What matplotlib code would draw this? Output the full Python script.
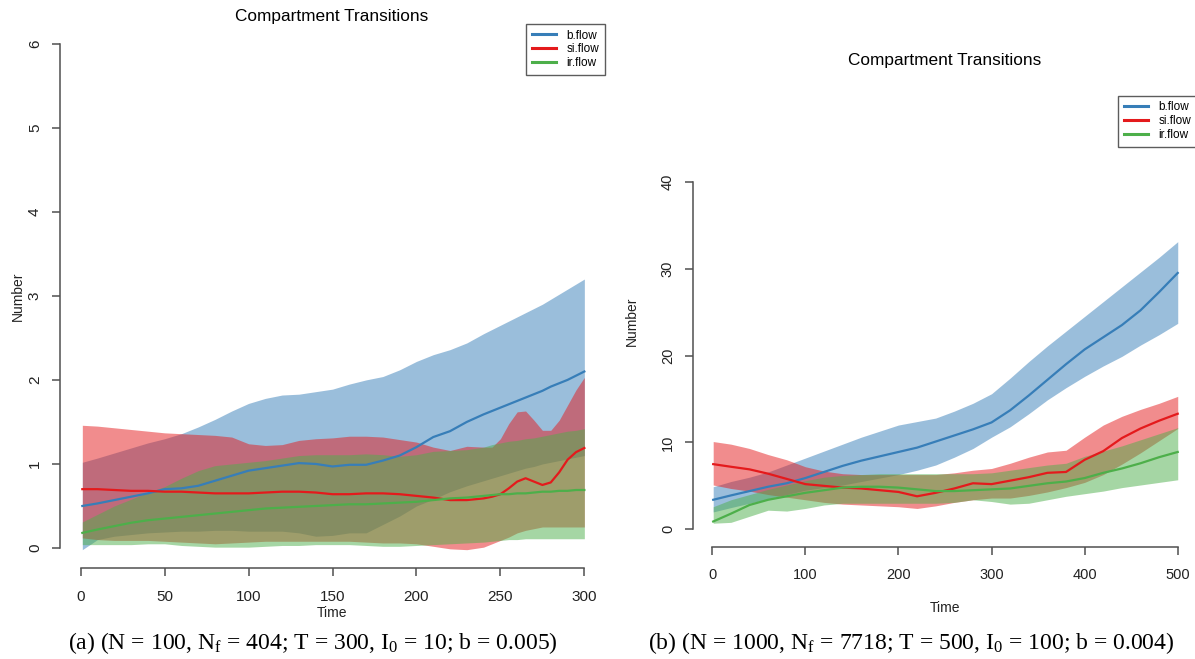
import matplotlib
matplotlib.use("Agg")
import matplotlib.pyplot as plt

plt.rcParams['font.family'] = ['Liberation Sans', 'DejaVu Sans']
plt.rcParams['mathtext.fontset'] = 'custom'
plt.rcParams['mathtext.rm'] = 'Liberation Serif'
plt.rcParams['mathtext.it'] = 'Liberation Serif:italic'

# ---- panel (a): N = 100, T = 300 ----
t_a = [1, 10, 20, 30, 40, 50, 60, 70, 80, 90, 100, 110, 120, 130, 140, 150, 160,
       170, 180, 190, 200, 210, 220, 230, 240, 245, 250, 255, 260, 265, 270, 275,
       280, 285, 290, 295, 300]

b_mean_a = [0.50, 0.53, 0.57, 0.61, 0.65, 0.70, 0.71, 0.74, 0.80, 0.86, 0.92, 0.95, 0.98,
            1.01, 1.00, 0.97, 0.99, 0.99, 1.04, 1.10, 1.20, 1.32, 1.39, 1.50, 1.59, 1.63,
            1.67, 1.71, 1.75, 1.79, 1.83, 1.87, 1.92, 1.96, 2.00, 2.05, 2.10]
b_hi_a = [1.02, 1.07, 1.13, 1.19, 1.25, 1.30, 1.36, 1.44, 1.53, 1.63, 1.72, 1.78, 1.82,
          1.83, 1.86, 1.89, 1.95, 2.00, 2.04, 2.12, 2.22, 2.30, 2.36, 2.44, 2.55, 2.60,
          2.65, 2.70, 2.75, 2.80, 2.85, 2.90, 2.96, 3.02, 3.08, 3.14, 3.20]
b_lo_a = [-0.02, 0.10, 0.14, 0.16, 0.18, 0.19, 0.20, 0.20, 0.21, 0.21, 0.20, 0.20, 0.20,
          0.18, 0.14, 0.15, 0.18, 0.18, 0.28, 0.38, 0.50, 0.58, 0.67, 0.74, 0.80, 0.83,
          0.86, 0.89, 0.92, 0.95, 0.97, 1.00, 1.02, 1.04, 1.06, 1.08, 1.10]

si_mean_a = [0.70, 0.70, 0.69, 0.68, 0.68, 0.67, 0.67, 0.66, 0.65, 0.65, 0.65, 0.66, 0.67,
             0.67, 0.66, 0.64, 0.64, 0.65, 0.65, 0.64, 0.62, 0.60, 0.57, 0.57, 0.59, 0.61,
             0.64, 0.71, 0.79, 0.83, 0.79, 0.75, 0.78, 0.90, 1.05, 1.14, 1.19]
si_hi_a = [1.46, 1.45, 1.43, 1.41, 1.39, 1.37, 1.36, 1.35, 1.34, 1.32, 1.24, 1.22, 1.23,
           1.28, 1.30, 1.31, 1.33, 1.33, 1.32, 1.29, 1.26, 1.20, 1.16, 1.21, 1.20, 1.20,
           1.30, 1.48, 1.62, 1.63, 1.52, 1.40, 1.40, 1.52, 1.70, 1.88, 2.03]
si_lo_a = [0.12, 0.10, 0.09, 0.09, 0.09, 0.08, 0.07, 0.06, 0.05, 0.06, 0.07, 0.08, 0.08,
           0.08, 0.08, 0.08, 0.08, 0.07, 0.06, 0.06, 0.05, 0.02, -0.01, -0.02, 0.01, 0.05,
           0.09, 0.13, 0.18, 0.21, 0.23, 0.25, 0.25, 0.25, 0.25, 0.25, 0.25]

ir_mean_a = [0.18, 0.22, 0.26, 0.30, 0.33, 0.35, 0.37, 0.39, 0.41, 0.43, 0.45, 0.47, 0.48,
             0.49, 0.50, 0.51, 0.52, 0.52, 0.53, 0.54, 0.55, 0.57, 0.59, 0.60, 0.62, 0.63,
             0.64, 0.64, 0.65, 0.65, 0.66, 0.67, 0.67, 0.68, 0.68, 0.69, 0.69]
ir_hi_a = [0.31, 0.40, 0.50, 0.58, 0.66, 0.73, 0.83, 0.92, 0.98, 1.00, 1.02, 1.04, 1.07,
           1.10, 1.11, 1.11, 1.11, 1.12, 1.11, 1.09, 1.11, 1.15, 1.16, 1.17, 1.20, 1.23,
           1.25, 1.27, 1.28, 1.30, 1.31, 1.33, 1.35, 1.37, 1.39, 1.40, 1.42]
ir_lo_a = [0.04, 0.04, 0.04, 0.04, 0.05, 0.05, 0.03, 0.02, 0.01, 0.01, 0.01, 0.02, 0.03,
           0.03, 0.04, 0.04, 0.04, 0.03, 0.02, 0.02, 0.03, 0.04, 0.05, 0.06, 0.07, 0.08,
           0.09, 0.10, 0.10, 0.11, 0.11, 0.11, 0.11, 0.11, 0.11, 0.11, 0.11]

# ---- panel (b): N = 1000, T = 500 ----
t_b = [1, 20, 40, 60, 80, 100, 120, 140, 160, 180, 200, 220, 240, 260, 280, 300, 320,
       340, 360, 380, 400, 420, 440, 460, 480, 500]

b_mean_b = [3.4, 3.9, 4.4, 4.9, 5.3, 5.9, 6.6, 7.3, 7.9, 8.4, 8.9, 9.4, 10.1, 10.8, 11.5,
            12.3, 13.7, 15.4, 17.2, 19.0, 20.7, 22.1, 23.5, 25.2, 27.3, 29.5]
b_hi_b = [4.9, 5.5, 6.0, 6.6, 7.4, 8.2, 9.0, 9.8, 10.6, 11.3, 12.0, 12.4, 12.8, 13.6, 14.5,
          15.6, 17.4, 19.3, 21.1, 22.8, 24.5, 26.2, 27.9, 29.6, 31.3, 33.1]
b_lo_b = [2.0, 2.5, 3.0, 3.5, 4.0, 4.5, 4.8, 5.1, 5.5, 5.9, 6.3, 6.8, 7.4, 8.3, 9.3, 10.6,
          11.8, 13.3, 14.9, 16.3, 17.6, 18.8, 19.9, 21.2, 22.4, 23.7]

si_mean_b = [7.5, 7.2, 6.9, 6.4, 5.8, 5.2, 5.0, 4.8, 4.7, 4.5, 4.3, 3.8, 4.2, 4.7, 5.3, 5.2,
             5.6, 6.0, 6.5, 6.6, 8.0, 9.0, 10.5, 11.6, 12.5, 13.3]
si_hi_b = [10.1, 9.8, 9.3, 8.6, 8.0, 7.2, 6.7, 6.4, 6.3, 6.3, 6.3, 6.3, 6.3, 6.5, 6.8, 7.0,
           7.6, 8.3, 8.9, 9.1, 10.6, 12.0, 13.0, 13.8, 14.5, 15.3]
si_lo_b = [5.1, 4.7, 4.4, 4.0, 3.7, 3.4, 3.1, 2.9, 2.8, 2.7, 2.6, 2.4, 2.7, 3.1, 3.4, 3.6,
           3.6, 3.9, 4.3, 4.8, 5.4, 6.3, 7.5, 8.8, 10.2, 11.6]

ir_mean_b = [0.9, 1.8, 2.8, 3.4, 3.8, 4.2, 4.5, 4.8, 4.9, 4.9, 4.8, 4.6, 4.4, 4.4, 4.5, 4.6,
             4.7, 5.0, 5.3, 5.5, 5.9, 6.5, 7.0, 7.6, 8.3, 8.9]
ir_hi_b = [2.6, 3.4, 4.0, 4.6, 5.1, 5.6, 6.0, 6.2, 6.3, 6.4, 6.4, 6.4, 6.4, 6.4, 6.4, 6.5,
           6.8, 7.1, 7.4, 7.6, 8.4, 9.0, 9.6, 10.3, 11.0, 11.7]
ir_lo_b = [0.7, 0.8, 1.5, 2.2, 2.1, 2.4, 2.8, 3.0, 3.0, 3.0, 3.0, 3.0, 3.0, 3.1, 3.4, 3.2,
           2.9, 3.0, 3.4, 3.8, 4.1, 4.4, 4.8, 5.1, 5.4, 5.7]

labels = ['b.flow', 'si.flow', 'ir.flow']
colors = ['#377EB8', '#E41A1C', '#4DAF4A']
captions = [r'(a) (N = 100, N$_\mathrm{f}$ = 404; T = 300, I$_\mathrm{0}$ = 10; b = 0.005)',
            r'(b) (N = 1000, N$_\mathrm{f}$ = 7718; T = 500, I$_\mathrm{0}$ = 100; b = 0.004)']

W, H = 1195, 659
fig = plt.figure(figsize=(W / 100, H / 100), dpi=100)


def px(x0, y0, x1, y1):
    return [x0 / W, 1 - y1 / H, (x1 - x0) / W, (y1 - y0) / H]


def draw_panel(ax, t, series, xticks, yticks, xlim, ylim, fs, xpad):
    for (lo, mean, hi), c in zip(series, colors):
        ax.fill_between(t, lo, hi, color=c, alpha=0.5, linewidth=0)
    for (lo, mean, hi), c, lab in zip(series, colors, labels):
        ax.plot(t, mean, color=c, lw=1.6, label=lab)
    ax.set_xlim(*xlim)
    ax.set_ylim(*ylim)
    for s in ['top', 'right']:
        ax.spines[s].set_visible(False)
    for s in ['left', 'bottom']:
        ax.spines[s].set_color('#505050')
        ax.spines[s].set_linewidth(1.1)
    ax.spines['left'].set_bounds(yticks[0], yticks[-1])
    ax.spines['bottom'].set_bounds(xticks[0], xticks[-1])
    ax.set_xticks(xticks)
    ax.set_yticks(yticks)
    ax.set_yticklabels([str(v) for v in yticks], rotation=90, va='center')
    ax.tick_params(length=6, width=1.1, color='#505050', labelcolor='#222222',
                   labelsize=fs, pad=7)
    ax.tick_params(axis='x', pad=xpad)
    leg = ax.legend(loc='upper right', borderaxespad=0, fontsize=8.5, frameon=True,
                    fancybox=False, edgecolor='#333333', handlelength=2.0,
                    handletextpad=0.9, labelspacing=0.15, borderpad=0.5)
    leg.get_frame().set_linewidth(1.0)
    for line in leg.get_lines():
        line.set_linewidth(2.2)


ax1 = fig.add_axes(px(60, 23.7, 605, 568))
draw_panel(ax1, t_a,
           [(b_lo_a, b_mean_a, b_hi_a), (si_lo_a, si_mean_a, si_hi_a), (ir_lo_a, ir_mean_a, ir_hi_a)],
           [0, 50, 100, 150, 200, 250, 300], [0, 1, 2, 3, 4, 5, 6],
           (-12.3, 312.3), (-0.238, 6.238), 11, 9.5)

ax2 = fig.add_axes(px(693, 95.5, 1197, 546.7))
draw_panel(ax2, t_b,
           [(b_lo_b, b_mean_b, b_hi_b), (si_lo_b, si_mean_b, si_hi_b), (ir_lo_b, ir_mean_b, ir_hi_b)],
           [0, 100, 200, 300, 400, 500], [0, 10, 20, 30, 40],
           (-20.7, 520.7), (-2.0, 49.92), 10.5, 9.0)

# titles and axis labels
fig.text(332 / W, 1 - 17 / H, 'Compartment Transitions', ha='center', va='center', fontsize=12.4)
fig.text(945 / W, 1 - 61 / H, 'Compartment Transitions', ha='center', va='center', fontsize=12.4)
fig.text(332 / W, 1 - 613 / H, 'Time', ha='center', va='center', fontsize=10, color='#222222')
fig.text(945 / W, 1 - 608 / H, 'Time', ha='center', va='center', fontsize=10, color='#222222')
fig.text(17.5 / W, 1 - 296 / H, 'Number', ha='center', va='center', rotation=90, fontsize=10,
         color='#222222')
fig.text(632 / W, 1 - 321 / H, 'Number', ha='center', va='center', rotation=90, fontsize=10,
         color='#222222')

# captions
fig.text(313 / W, 1 - 643 / H, captions[0], ha='center', va='center', fontsize=17,
         family='Liberation Serif')
fig.text(911 / W, 1 - 643 / H, captions[1], ha='center', va='center', fontsize=17,
         family='Liberation Serif')

fig.savefig('out.png', dpi=100)
